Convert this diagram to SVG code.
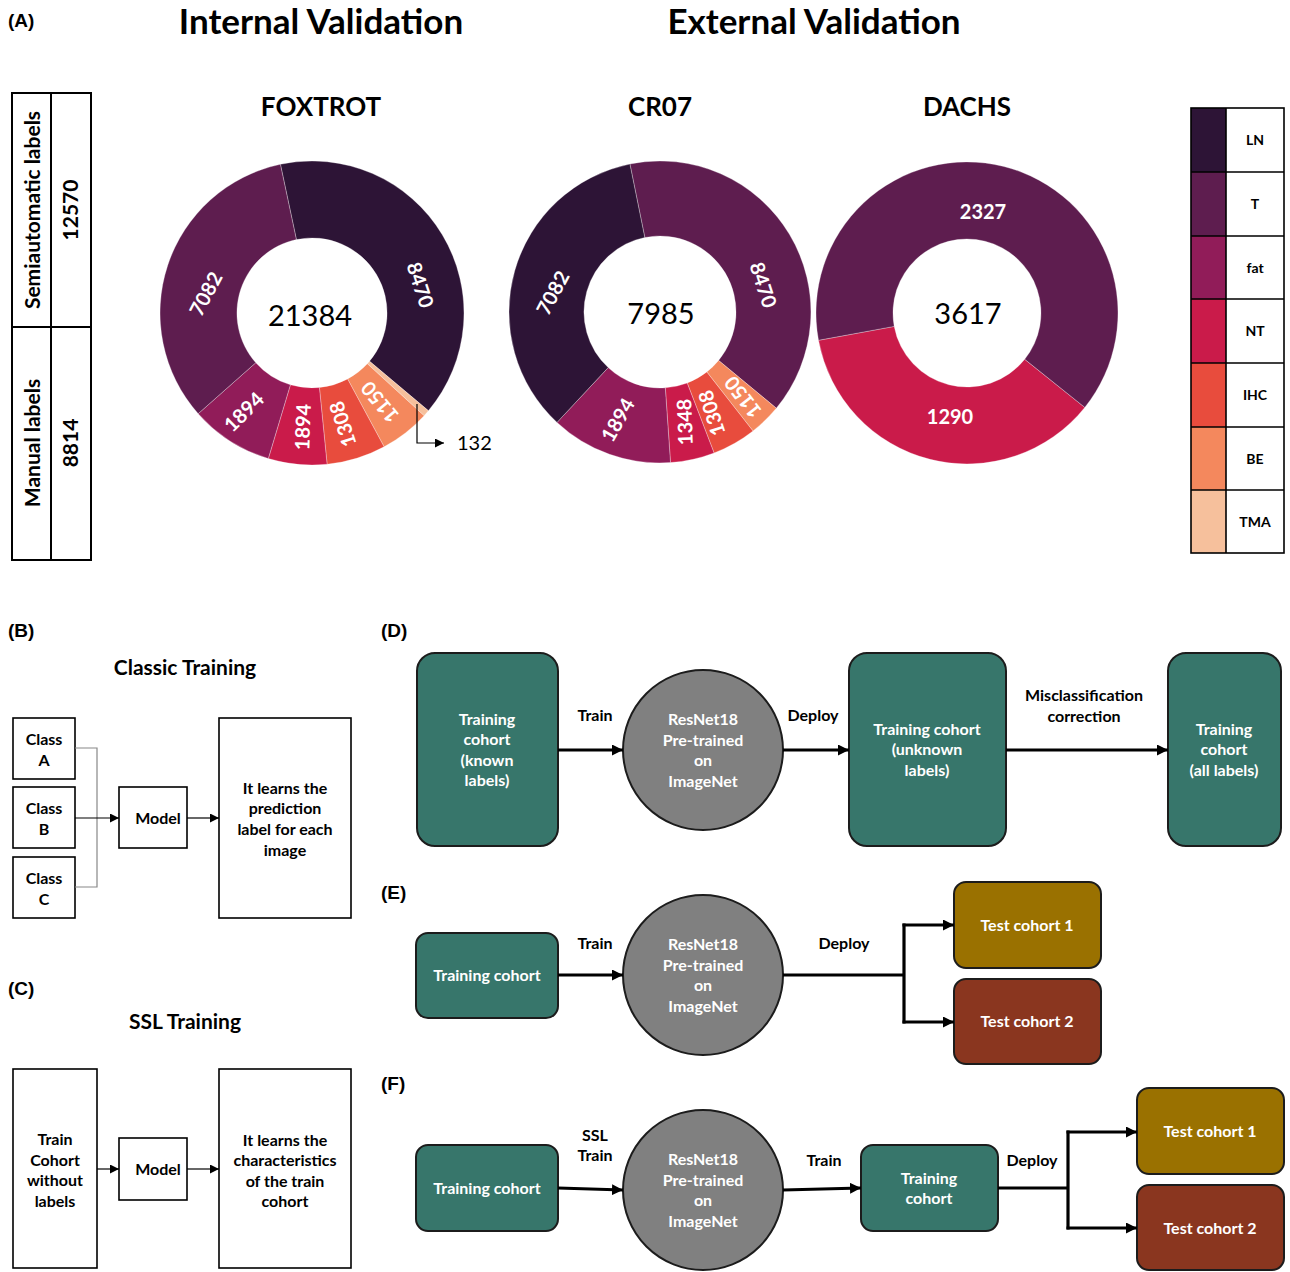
<svg xmlns="http://www.w3.org/2000/svg" width="1290" height="1272" viewBox="0 0 1290 1272">
<defs>
<style>
text{font-family:Lato,"Open Sans",sans-serif;}
.tag{font-family:"Liberation Sans",Arial,sans-serif;font-weight:bold;font-size:19px;fill:#000;}
.h1{font-weight:bold;font-size:35px;text-anchor:middle;fill:#000;}
.h2{font-weight:bold;font-size:26px;text-anchor:middle;fill:#000;}
.ctr{font-size:29px;text-anchor:middle;fill:#000;}
.seg{font-weight:bold;font-size:20px;text-anchor:middle;fill:#fff;}
.lg{font-weight:bold;font-size:14px;text-anchor:middle;fill:#000;}
.tb{font-weight:bold;font-size:21px;text-anchor:middle;fill:#000;}
.sub{font-weight:bold;font-size:21px;text-anchor:middle;fill:#000;}
.bx{fill:#fff;stroke:#000;stroke-width:1.6;}
.bt{font-weight:bold;font-size:16px;text-anchor:middle;fill:#000;}
.wt{font-weight:bold;font-size:16px;text-anchor:middle;fill:#fff;}
.lbl{font-weight:bold;font-size:16px;text-anchor:middle;fill:#000;}
.teal{fill:#37766b;stroke:#1c1c1c;stroke-width:2;}
.gold{fill:#9a7100;stroke:#1c1c1c;stroke-width:2;}
.rust{fill:#8a361f;stroke:#1c1c1c;stroke-width:2;}
.net{fill:#808080;stroke:#1c1c1c;stroke-width:2;}
.thin{fill:none;stroke:#000;stroke-width:1.2;}
.gray{fill:none;stroke:#888;stroke-width:1.2;}
.thick{fill:none;stroke:#000;stroke-width:3.2;}
.sg{stroke:#fff;stroke-width:0.6;stroke-opacity:0.5;}
.LN{fill:#2d1436;}
.T{fill:#5e1d4f;}
.fat{fill:#911c59;}
.NT{fill:#ca1b4a;}
.IHC{fill:#e84c3d;}
.BE{fill:#f4885d;}
.TMA{fill:#f6c09c;}
</style>
<marker id="a" viewBox="0 0 10 10" refX="10" refY="5" markerWidth="9" markerHeight="9" markerUnits="userSpaceOnUse" orient="auto"><path d="M0,0 L10,5 L0,10 z" fill="#000"/></marker>
<marker id="b" viewBox="0 0 10 10" refX="10" refY="5" markerWidth="11" markerHeight="11" markerUnits="userSpaceOnUse" orient="auto"><path d="M0,0 L10,5 L0,10 z" fill="#000"/></marker>
</defs>
<rect width="1290" height="1272" fill="#fff"/>

<!-- Panel A -->
<text class="tag" x="8" y="27">(A)</text>
<text class="h1" x="321" y="34">Internal Validation</text>
<text class="h1" x="814" y="34">External Validation</text>
<text class="h2" x="321" y="116">FOXTROT</text>
<text class="h2" x="660" y="116">CR07</text>
<text class="h2" x="967" y="116">DACHS</text>

<g id="label-table">
<rect x="12" y="93" width="79" height="467" fill="#fff" stroke="#000" stroke-width="2"/>
<line x1="51" y1="93" x2="51" y2="560" stroke="#000" stroke-width="2"/>
<line x1="12" y1="327" x2="91" y2="327" stroke="#000" stroke-width="2"/>
<text class="tb" transform="translate(33,210) rotate(-90)" dy="0.35em">Semiautomatic labels</text>
<text class="tb" transform="translate(71,210) rotate(-90)" dy="0.35em">12570</text>
<text class="tb" transform="translate(33,443) rotate(-90)" dy="0.35em">Manual labels</text>
<text class="tb" transform="translate(71,443) rotate(-90)" dy="0.35em">8814</text>
</g>

<g id="donut-foxtrot">
<path class="LN sg" d="M280.4,164.3 A152,152 0 0 1 428.4,410.7 L369.5,361.2 A75,75 0 0 0 296.4,239.6 Z"/>
<path class="TMA sg" d="M428.4,410.7 A152,152 0 0 1 424.1,415.7 L367.3,363.7 A75,75 0 0 0 369.5,361.2 Z"/>
<path class="BE sg" d="M424.1,415.7 A152,152 0 0 1 384.1,446.8 L347.6,379.0 A75,75 0 0 0 367.3,363.7 Z"/>
<path class="IHC sg" d="M384.1,446.8 A152,152 0 0 1 327.1,464.3 L319.4,387.6 A75,75 0 0 0 347.6,379.0 Z"/>
<path class="NT sg" d="M327.1,464.3 A152,152 0 0 1 268.3,458.6 L290.4,384.8 A75,75 0 0 0 319.4,387.6 Z"/>
<path class="fat sg" d="M268.3,458.6 A152,152 0 0 1 198.2,413.7 L255.8,362.7 A75,75 0 0 0 290.4,384.8 Z"/>
<path class="T sg" d="M198.2,413.7 A152,152 0 0 1 280.4,164.3 L296.4,239.6 A75,75 0 0 0 255.8,362.7 Z"/>
<text class="ctr" x="310" y="326">21384</text>
<text class="seg" transform="translate(420,285) rotate(72)" dy="0.35em">8470</text>
<text class="seg" transform="translate(206,294) rotate(-62)" dy="0.35em">7082</text>
<text class="seg" transform="translate(244,412) rotate(-45)" dy="0.35em">1894</text>
<text class="seg" transform="translate(303,427) rotate(-88)" dy="0.35em">1894</text>
<text class="seg" transform="translate(343,424) rotate(-108)" dy="0.35em">1308</text>
<text class="seg" transform="translate(380,402) rotate(-130)" dy="0.35em">1150</text>
<path class="thin" d="M417,404 V443 H444" marker-end="url(#a)"/>
<text x="457" y="450" font-size="20" fill="#000">132</text>
</g>

<g id="donut-cr07">
<path class="T sg" d="M629.9,164.0 A151,151 0 0 1 776.3,408.2 L718.6,360.4 A76,76 0 0 0 644.8,237.5 Z"/>
<path class="BE sg" d="M776.3,408.2 A151,151 0 0 1 753.0,431.0 L706.8,371.9 A76,76 0 0 0 718.6,360.4 Z"/>
<path class="IHC sg" d="M753.0,431.0 A151,151 0 0 1 714.1,453.0 L687.2,383.0 A76,76 0 0 0 706.8,371.9 Z"/>
<path class="NT sg" d="M714.1,453.0 A151,151 0 0 1 670.5,462.6 L665.3,387.8 A76,76 0 0 0 687.2,383.0 Z"/>
<path class="fat sg" d="M670.5,462.6 A151,151 0 0 1 557.0,422.4 L608.2,367.6 A76,76 0 0 0 665.3,387.8 Z"/>
<path class="LN sg" d="M557.0,422.4 A151,151 0 0 1 629.9,164.0 L644.8,237.5 A76,76 0 0 0 608.2,367.6 Z"/>
<text class="ctr" x="661" y="324">7985</text>
<text class="seg" transform="translate(763,285) rotate(72)" dy="0.35em">8470</text>
<text class="seg" transform="translate(553,293) rotate(-62)" dy="0.35em">7082</text>
<text class="seg" transform="translate(618,420) rotate(-60)" dy="0.35em">1894</text>
<text class="seg" transform="translate(685,422) rotate(-92)" dy="0.35em">1348</text>
<text class="seg" transform="translate(712,413) rotate(-108)" dy="0.35em">1308</text>
<text class="seg" transform="translate(743,397) rotate(-128)" dy="0.35em">1150</text>
</g>

<g id="donut-dachs">
<path class="NT sg" d="M1084.8,407.4 A151,151 0 0 1 818.5,340.3 L894.2,326.4 A74,74 0 0 0 1024.7,359.3 Z"/>
<path class="T sg" d="M818.5,340.3 A151,151 0 1 1 1084.8,407.4 L1024.7,359.3 A74,74 0 1 0 894.2,326.4 Z"/>
<text class="ctr" x="968" y="324">3617</text>
<text class="seg" x="983" y="219" font-size="21">2327</text>
<text class="seg" x="950" y="424" font-size="21">1290</text>
</g>

<g id="legend">
<rect x="1191" y="108" width="35" height="64" class="LN"/>
<rect x="1191" y="172" width="35" height="64" class="T"/>
<rect x="1191" y="236" width="35" height="63" class="fat"/>
<rect x="1191" y="299" width="35" height="64" class="NT"/>
<rect x="1191" y="363" width="35" height="64" class="IHC"/>
<rect x="1191" y="427" width="35" height="63" class="BE"/>
<rect x="1191" y="490" width="35" height="63" class="TMA"/>
<rect x="1191" y="108" width="93" height="445" fill="none" stroke="#000" stroke-width="1.6"/>
<path d="M1226,108 V553 M1191,172 H1284 M1191,236 H1284 M1191,299 H1284 M1191,363 H1284 M1191,427 H1284 M1191,490 H1284" stroke="#000" stroke-width="1.6" fill="none"/>
<text class="lg" x="1255" y="145">LN</text>
<text class="lg" x="1255" y="209">T</text>
<text class="lg" x="1255" y="273">fat</text>
<text class="lg" x="1255" y="336">NT</text>
<text class="lg" x="1255" y="400">IHC</text>
<text class="lg" x="1255" y="464">BE</text>
<text class="lg" x="1255" y="527">TMA</text>
</g>

<!-- Panel B -->
<text class="tag" x="8" y="637">(B)</text>
<text class="sub" x="185" y="675">Classic Training</text>
<g id="b-class-a"><rect class="bx" x="13" y="718" width="62" height="61"/><text class="bt" x="44" y="745">Class</text><text class="bt" x="44" y="766">A</text></g>
<g id="b-class-b"><rect class="bx" x="13" y="787" width="62" height="61"/><text class="bt" x="44" y="814">Class</text><text class="bt" x="44" y="835">B</text></g>
<g id="b-class-c"><rect class="bx" x="13" y="857" width="62" height="61"/><text class="bt" x="44" y="884">Class</text><text class="bt" x="44" y="905">C</text></g>
<g id="b-model"><rect class="bx" x="119" y="787" width="68" height="61"/><text class="bt" x="158" y="824">Model</text></g>
<g id="b-result"><rect class="bx" x="219" y="718" width="132" height="200"/>
<text class="bt" x="285" y="794">It learns the</text><text class="bt" x="285" y="814">prediction</text><text class="bt" x="285" y="835">label for each</text><text class="bt" x="285" y="856">image</text></g>

<!-- Panel C -->
<text class="tag" x="8" y="995">(C)</text>
<text class="sub" x="185" y="1029">SSL Training</text>
<g id="c-train"><rect class="bx" x="13" y="1069" width="84" height="199"/>
<text class="bt" x="55" y="1145">Train</text><text class="bt" x="55" y="1166">Cohort</text><text class="bt" x="55" y="1186">without</text><text class="bt" x="55" y="1207">labels</text></g>
<g id="c-model"><rect class="bx" x="119" y="1138" width="68" height="62"/><text class="bt" x="158" y="1175">Model</text></g>
<g id="c-result"><rect class="bx" x="219" y="1069" width="132" height="199"/>
<text class="bt" x="285" y="1146">It learns the</text><text class="bt" x="285" y="1166">characteristics</text><text class="bt" x="285" y="1187">of the train</text><text class="bt" x="285" y="1207">cohort</text></g>

<!-- Panel D -->
<text class="tag" x="381" y="637">(D)</text>
<g id="d-known"><rect class="teal" x="417" y="653" width="141" height="193" rx="18"/>
<text class="wt" x="487" y="725">Training</text><text class="wt" x="487" y="745">cohort</text><text class="wt" x="487" y="766">(known</text><text class="wt" x="487" y="786">labels)</text></g>
<g id="d-resnet"><circle class="net" cx="703" cy="750" r="80"/>
<text class="wt" x="703" y="725">ResNet18</text><text class="wt" x="703" y="746">Pre-trained</text><text class="wt" x="703" y="766">on</text><text class="wt" x="703" y="787">ImageNet</text></g>
<g id="d-unknown"><rect class="teal" x="849" y="653" width="157" height="193" rx="18"/>
<text class="wt" x="927" y="735">Training cohort</text><text class="wt" x="927" y="755">(unknown</text><text class="wt" x="927" y="776">labels)</text></g>
<g id="d-all"><rect class="teal" x="1168" y="653" width="113" height="193" rx="18"/>
<text class="wt" x="1224" y="735">Training</text><text class="wt" x="1224" y="755">cohort</text><text class="wt" x="1224" y="776">(all labels)</text></g>

<!-- Panel E -->
<text class="tag" x="381" y="899">(E)</text>
<g id="e-train"><rect class="teal" x="416" y="933" width="142" height="85" rx="12"/><text class="wt" x="487" y="981">Training cohort</text></g>
<g id="e-resnet"><circle class="net" cx="703" cy="975" r="80"/>
<text class="wt" x="703" y="950">ResNet18</text><text class="wt" x="703" y="971">Pre-trained</text><text class="wt" x="703" y="991">on</text><text class="wt" x="703" y="1012">ImageNet</text></g>
<g id="e-test1"><rect class="gold" x="954" y="882" width="147" height="86" rx="12"/><text class="wt" x="1027" y="931">Test cohort 1</text></g>
<g id="e-test2"><rect class="rust" x="954" y="979" width="147" height="85" rx="12"/><text class="wt" x="1027" y="1027">Test cohort 2</text></g>

<!-- Panel F -->
<text class="tag" x="381" y="1090">(F)</text>
<g id="f-train"><rect class="teal" x="416" y="1145" width="142" height="86" rx="12"/><text class="wt" x="487" y="1194">Training cohort</text></g>
<g id="f-resnet"><circle class="net" cx="703" cy="1190" r="80"/>
<text class="wt" x="703" y="1165">ResNet18</text><text class="wt" x="703" y="1186">Pre-trained</text><text class="wt" x="703" y="1206">on</text><text class="wt" x="703" y="1227">ImageNet</text></g>
<g id="f-train2"><rect class="teal" x="861" y="1145" width="137" height="86" rx="12"/><text class="wt" x="929" y="1184">Training</text><text class="wt" x="929" y="1204">cohort</text></g>
<g id="f-test1"><rect class="gold" x="1137" y="1088" width="147" height="86" rx="12"/><text class="wt" x="1210" y="1137">Test cohort 1</text></g>
<g id="f-test2"><rect class="rust" x="1137" y="1185" width="147" height="85" rx="12"/><text class="wt" x="1210" y="1234">Test cohort 2</text></g>

<g id="connectors">
<path class="gray" d="M75,748 H97 V887 H75"/>
<path class="thin" d="M75,818 H119" marker-end="url(#a)"/>
<path class="thin" d="M187,818 H219" marker-end="url(#a)"/>
<path class="thin" d="M97,1169 H119" marker-end="url(#a)"/>
<path class="thin" d="M187,1169 H219" marker-end="url(#a)"/>
<path class="thick" d="M558,750 H623" marker-end="url(#b)"/>
<path class="thick" d="M783,750 H849" marker-end="url(#b)"/>
<path class="thick" d="M1006,750 H1168" marker-end="url(#b)"/>
<path class="thick" d="M558,975 H623" marker-end="url(#b)"/>
<path class="thick" d="M783,975 H904"/>
<path class="thick" d="M904,923.5 V1023.5"/>
<path class="thick" d="M902.5,925 H954" marker-end="url(#b)"/>
<path class="thick" d="M902.5,1022 H954" marker-end="url(#b)"/>
<path class="thick" d="M558,1188 L623,1190" marker-end="url(#b)"/>
<path class="thick" d="M783,1190 L861,1188" marker-end="url(#b)"/>
<path class="thick" d="M998,1188 H1068"/>
<path class="thick" d="M1068,1130.5 V1229.5"/>
<path class="thick" d="M1066.5,1132 H1137" marker-end="url(#b)"/>
<path class="thick" d="M1066.5,1228 H1137" marker-end="url(#b)"/>
<text class="lbl" x="595" y="721">Train</text>
<text class="lbl" x="813" y="721">Deploy</text>
<text class="lbl" x="1084" y="701">Misclassification</text>
<text class="lbl" x="1084" y="722">correction</text>
<text class="lbl" x="595" y="949">Train</text>
<text class="lbl" x="844" y="949">Deploy</text>
<text class="lbl" x="595" y="1141">SSL</text>
<text class="lbl" x="595" y="1161">Train</text>
<text class="lbl" x="824" y="1166">Train</text>
<text class="lbl" x="1032" y="1166">Deploy</text>
</g>
</svg>
